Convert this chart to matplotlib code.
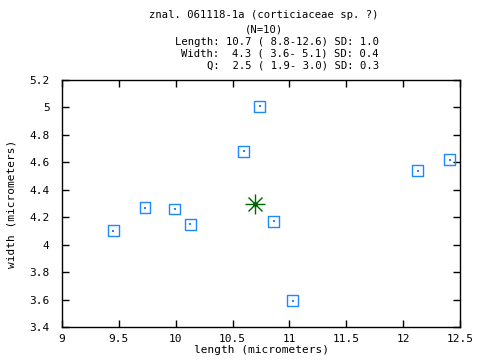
import matplotlib
matplotlib.use("Agg")
import matplotlib.pyplot as plt

lengths = [9.45, 9.73, 9.99, 10.13, 10.60, 10.74, 10.86, 11.03, 12.13, 12.41]
widths = [4.10, 4.27, 4.26, 4.15, 4.68, 5.01, 4.17, 3.59, 4.54, 4.62]
mean_len = 10.7
mean_wid = 4.30

title_top = ["znal. 061118-1a (corticiaceae sp. ?)", "(N=10)"]
title_stats = ["Length: 10.7 ( 8.8-12.6) SD: 1.0",
               "Width:  4.3 ( 3.6- 5.1) SD: 0.4",
               "Q:  2.5 ( 1.9- 3.0) SD: 0.3"]

xticks = [9, 9.5, 10, 10.5, 11, 11.5, 12, 12.5]
xticklabels = ["9", "9.5", "10", "10.5", "11", "11.5", "12", "12.5"]
yticks = [3.4, 3.6, 3.8, 4.0, 4.2, 4.4, 4.6, 4.8, 5.0, 5.2]
yticklabels = ["3.4", "3.6", "3.8", "4", "4.2", "4.4", "4.6", "4.8", "5", "5.2"]

mono = "DejaVu Sans Mono"
fs = 8.0
fs_title = 7.6
blue = "#1e88ff"
green = "#006400"

fig = plt.figure(figsize=(4.8, 3.6), dpi=100)
ax = fig.add_axes([62 / 480, 1 - 327 / 360, 398 / 480, 247 / 360])

ax.scatter(lengths, widths, marker="s", s=62, facecolors="none",
           edgecolors=blue, linewidths=1.0, zorder=3)
ax.scatter(lengths, widths, marker="s", s=1, color=blue, linewidths=0, zorder=3)

# mean as an eight-armed star
ax.plot([mean_len], [mean_wid], marker="+", ms=15, mew=1.0, color=green, zorder=4)
ax.plot([mean_len], [mean_wid], marker="x", ms=10.5, mew=1.0, color=green, zorder=4)
ax.plot([mean_len], [mean_wid], marker="o", ms=2.5, color=green, zorder=4)

ax.set_xlim(9, 12.5)
ax.set_ylim(3.4, 5.2)
ax.set_xticks(xticks)
ax.set_xticklabels(xticklabels, family=mono, fontsize=fs)
ax.set_yticks(yticks)
ax.set_yticklabels(yticklabels, family=mono, fontsize=fs)
ax.tick_params(direction="in", length=5, width=1, top=True, right=True)
ax.tick_params(axis="x", pad=5)
ax.tick_params(axis="y", pad=9)
for sp in ax.spines.values():
    sp.set_linewidth(1.0)

ax.set_xlabel("length (micrometers)", family=mono, fontsize=fs, labelpad=1)
ax.set_ylabel("width (micrometers)", family=mono, fontsize=fs, labelpad=9)

# title lines, placed by pixel row like the reference
rows_top = [15, 30]
rows_stats = [42, 53.5, 65]
for line, row in zip(title_top, rows_top):
    fig.text(264 / 480, 1 - row / 360, line, family=mono, fontsize=fs_title,
             ha="center", va="center")
for line, row in zip(title_stats, rows_stats):
    fig.text(379 / 480, 1 - row / 360, line, family=mono, fontsize=fs_title,
             ha="right", va="center")

fig.savefig("out.png", dpi=100)
